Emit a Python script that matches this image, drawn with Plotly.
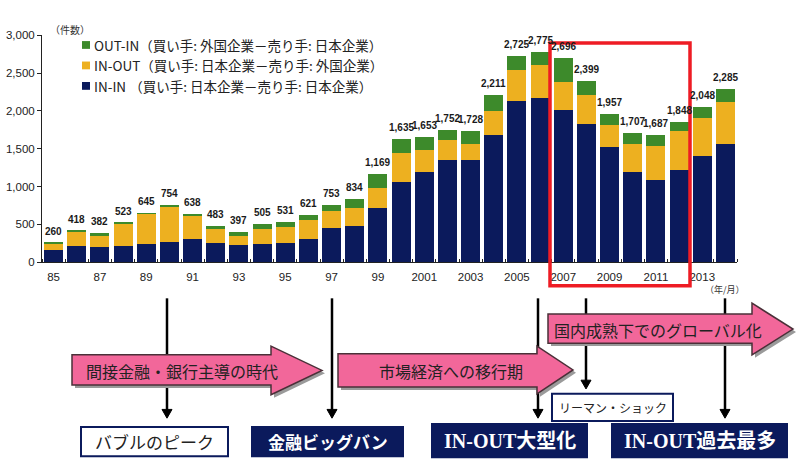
import plotly.graph_objects as go

years = list(range(1985, 2015))
totals = [260, 418, 382, 523, 645, 754, 638, 483, 397, 505, 531, 621, 753, 834, 1169,
          1635, 1653, 1752, 1728, 2211, 2725, 2775, 2696, 2399, 1957, 1707, 1687, 1848, 2048, 2285]
in_in = [158, 220, 197, 210, 240, 262, 305, 253, 228, 240, 249, 313, 451, 481, 717,
         1065, 1189, 1348, 1348, 1678, 2129, 2173, 2013, 1825, 1520, 1189, 1086, 1224, 1404, 1562]
in_out = [82, 178, 159, 296, 400, 463, 309, 181, 120, 198, 223, 245, 223, 236, 262,
          373, 288, 271, 219, 327, 412, 429, 374, 381, 296, 373, 455, 511, 498, 550]
out_in = [t - a - b for t, a, b in zip(totals, in_in, in_out)]

tick_years = list(range(1985, 2015, 2))
tick_labels = ["85", "87", "89", "91", "93", "95", "97", "99",
               "2001", "2003", "2005", "2007", "2009", "2011", "2013"]

names = ["IN-IN （買い手: 日本企業－売り手: 日本企業）",
         "IN-OUT（買い手: 日本企業－売り手: 外国企業）",
         "OUT-IN（買い手: 外国企業－売り手: 日本企業）"]

NAVY = "#0B1A5C"
YELLOW = "#EDB020"
GREEN = "#3D8A2B"
PINK = "#F2679A"
JP = "Noto Sans CJK JP"
SANS = "Liberation Sans, Arial, Noto Sans CJK JP"

W, H = 800, 469
def X(p): return p / W
def Y(p): return 1 - p / H

fig = go.Figure()
colors = [NAVY, YELLOW, GREEN]
for name, vals, col in zip(names, [in_in, in_out, out_in], colors):
    fig.add_trace(go.Bar(x=years, y=vals, name=name, showlegend=False,
                         marker=dict(color=col, line=dict(width=0))))

annotations = []
for yr, t in zip(years, totals):
    annotations.append(dict(xref="x", yref="y", x=yr, y=t, yanchor="bottom", yshift=4,
                            text=f"<b>{t:,}</b>", showarrow=False,
                            font=dict(family=SANS, size=10, color="#1a1a1a")))

shapes = []
# manual legend (top entry = OUT-IN)
for i, (name, col) in enumerate(zip(names[::-1], colors[::-1])):
    yc = 40 + 21 * i
    shapes.append(dict(type="rect", xref="paper", yref="paper", x0=X(82), x1=X(90),
                       y0=Y(yc + 4), y1=Y(yc - 4), fillcolor=col, line=dict(width=0)))
    annotations.append(dict(xref="paper", yref="paper", x=X(92), y=Y(yc), xanchor="left",
                            yanchor="middle", text=name, showarrow=False,
                            font=dict(family=JP, size=13.5, color="#222")))

# vertical event arrows
events = [(167, 300, 423), (332, 300, 423), (538, 300, 423), (586, 300, 393), (725, 300, 423)]
for x, y0, y1 in events:
    shapes.append(dict(type="line", xref="paper", yref="paper", x0=X(x), x1=X(x),
                       y0=Y(y0), y1=Y(y1 - 6), line=dict(color="black", width=2.5)))
    shapes.append(dict(type="path", xref="paper", yref="paper",
                       path=f"M {X(x-5)},{Y(y1-9)} L {X(x+5)},{Y(y1-9)} L {X(x)},{Y(y1)} Z",
                       fillcolor="black", line=dict(color="black", width=1)))

def block_arrow(x0, yb0, yb1, xh, yh0, yh1, xt, dx=0, dy=0):
    yt = (yh0 + yh1) / 2
    pts = [(x0, yb0), (xh, yb0), (xh, yh0), (xt, yt), (xh, yh1), (xh, yb1), (x0, yb1)]
    return "M " + " L ".join(f"{X(a+dx)},{Y(b+dy)}" for a, b in pts) + " Z"

arrows = [
    (72, 358, 389, 271, 349, 399, 322, 182, "間接金融・銀行主導の時代"),
    (338, 357, 391, 537, 349, 398, 573, 451, "市場経済への移行期"),
    (548, 316, 346, 752, 305, 358, 793, 658, "国内成熟下でのグローバル化"),
]
for x0, yb0, yb1, xh, yh0, yh1, xt, xc, txt in arrows:
    shapes.append(dict(type="path", xref="paper", yref="paper",
                       path=block_arrow(x0, yb0, yb1, xh, yh0, yh1, xt, 3, 3),
                       fillcolor="#9a9a9a", line=dict(width=0)))
    shapes.append(dict(type="path", xref="paper", yref="paper",
                       path=block_arrow(x0, yb0, yb1, xh, yh0, yh1, xt),
                       fillcolor=PINK, line=dict(color="#4a3038", width=1.5)))
    annotations.append(dict(xref="paper", yref="paper", x=X(xc), y=Y((yb0 + yb1) / 2 + 1),
                            xanchor="center", yanchor="middle", text=txt, showarrow=False,
                            font=dict(family=JP, size=16, color="#222")))

boxes = [
    (81, 432, 228, 462, "バブルのピーク", False, 17),
    (252, 432, 403, 462, "<b>金融ビッグバン</b>", True, 17),
    (432, 429, 587, 463, "<b>IN-OUT大型化</b>", True, 20),
    (552, 398, 673, 426, "リーマン・ショック", False, 12),
    (612, 429, 787, 463, "<b>IN-OUT過去最多</b>", True, 20),
]
for x0, y0, x1, y1, txt, filled, fs in boxes:
    shapes.append(dict(type="rect", xref="paper", yref="paper", x0=X(x0), x1=X(x1),
                       y0=Y(y1), y1=Y(y0), fillcolor=NAVY if filled else "white",
                       line=dict(color=NAVY, width=2)))
    fam = "Liberation Serif, " + JP if "IN-OUT" in txt else JP
    annotations.append(dict(xref="paper", yref="paper", x=X((x0 + x1) / 2), y=Y((y0 + y1) / 2),
                            xanchor="center", yanchor="middle", text=txt, showarrow=False,
                            font=dict(family=fam, size=fs, color="white" if filled else "#222")))

# red highlight rectangle
shapes.append(dict(type="rect", xref="paper", yref="paper", x0=X(550), x1=X(690),
                   y0=Y(287), y1=Y(38), line=dict(color="#EE1C24", width=3.5),
                   fillcolor="rgba(0,0,0,0)"))

annotations.append(dict(xref="paper", yref="paper", x=X(48), y=Y(14), text="（件数）",
                        showarrow=False, font=dict(family=JP, size=10, color="#333")))
annotations.append(dict(xref="paper", yref="paper", x=X(747), y=Y(291), text="（年/月）",
                        showarrow=False, font=dict(family=JP, size=9, color="#333")))

fig.update_layout(
    width=W, height=H, margin=dict(l=0, r=0, t=0, b=0),
    paper_bgcolor="white", plot_bgcolor="white",
    barmode="stack", bargap=0.18,
    shapes=shapes, annotations=annotations,
    showlegend=False,
    xaxis=dict(domain=[X(42), X(737)], range=[1984.5, 2014.5], tickvals=tick_years,
               ticktext=tick_labels, ticks="", showline=True, linecolor="#222", linewidth=1,
               showgrid=False, zeroline=False, ticklabelstandoff=4,
               tickfont=dict(family=SANS, size=11.5, color="#222"),
               minor=dict(ticks="inside", ticklen=3, tick0=1984.5, dtick=1, tickcolor="#222")),
    yaxis=dict(domain=[Y(263), Y(30)], range=[0, 3000], tickvals=[0, 500, 1000, 1500, 2000, 2500, 3000],
               tickformat=",", ticks="outside", ticklen=4, tickcolor="#222", showline=True,
               linecolor="#222", linewidth=1, showgrid=False, zeroline=False,
               tickfont=dict(family=SANS, size=11.5, color="#222")),
)

fig.write_html("out.html")
